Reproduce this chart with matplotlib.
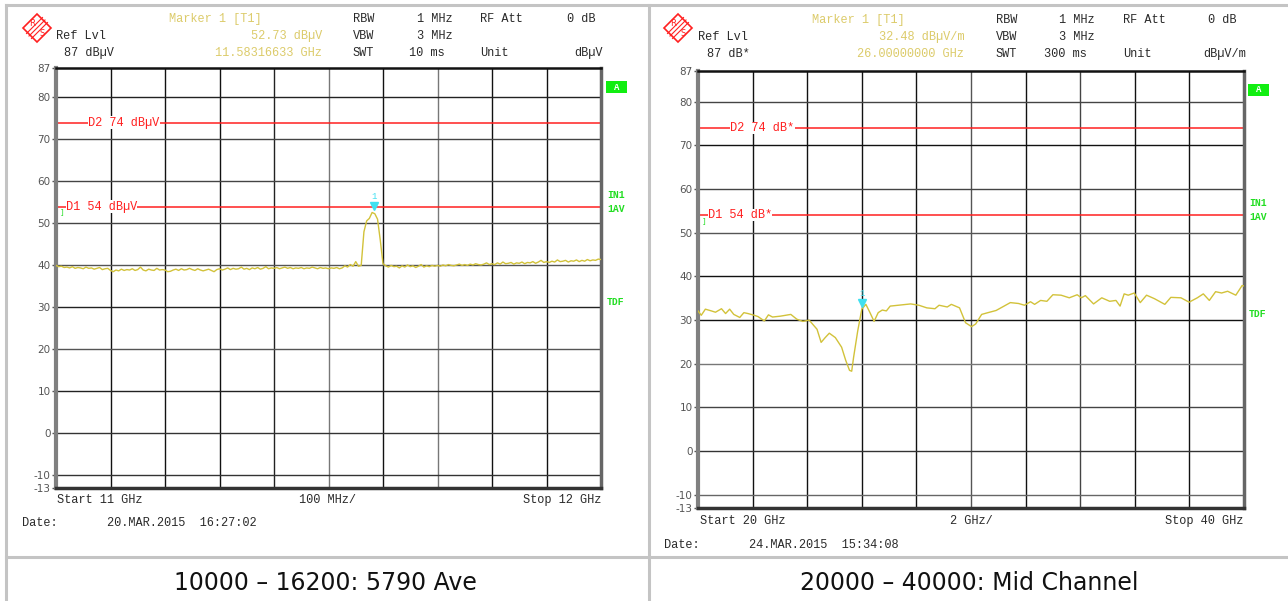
import numpy as np
import matplotlib
matplotlib.use("Agg")
import matplotlib.pyplot as plt
from matplotlib.transforms import blended_transform_factory
from matplotlib.patches import Polygon, Rectangle

W, H = 1288, 601
MONO = ["Liberation Mono", "DejaVu Sans Mono"]

# ---- panel 1: 11-12 GHz sweep, 5 MHz steps ----
left_start, left_stop = 11.0, 12.0
left_trace = [
    40.0, 39.7, 39.8, 39.5, 39.6, 39.4, 39.7, 39.3, 39.5, 39.4,
    39.2, 39.6, 39.3, 39.4, 39.1, 39.3, 39.5, 39.0, 39.2, 39.3,
    38.8, 38.5, 38.9, 38.7, 39.1, 38.8, 39.0, 38.9, 39.2, 38.8,
    39.0, 39.6, 38.9, 38.7, 39.1, 38.9, 38.8, 39.3, 38.9, 39.0,
    38.9, 38.5, 38.6, 38.9, 39.1, 38.8, 39.2, 38.9, 39.0, 39.3,
    39.0, 38.8, 39.2, 38.9, 38.7, 38.9, 39.1, 38.8, 38.5, 39.0,
    39.2, 38.9, 39.1, 39.4, 39.0, 39.3, 39.1, 39.2, 39.6, 39.1,
    39.3, 39.0, 39.4, 39.2, 39.5, 39.1, 39.3, 39.7, 39.2, 39.4,
    39.3, 39.5, 39.2, 39.4, 39.6, 39.3, 39.5, 39.2, 39.4, 39.3,
    39.5, 39.2, 39.4, 39.3, 39.6, 39.4, 39.2, 39.5, 39.3, 39.4,
    39.2, 39.4, 39.3, 39.5, 39.2, 39.4, 39.9, 39.6, 40.2, 39.8,
    40.9, 39.8, 40.0, 48.0, 50.6, 51.2, 52.6, 52.3, 51.0, 46.0,
    40.4, 39.9, 39.6, 40.0, 39.7, 39.8, 39.4, 39.9, 39.6, 40.1,
    39.7, 39.9, 39.5, 39.8, 40.2, 39.6, 39.9, 39.7, 40.0, 39.8,
    40.0, 39.8, 40.1, 39.9, 40.2, 40.0, 39.9, 40.1, 40.3, 40.0,
    40.2, 40.0, 40.3, 40.1, 40.4, 40.2, 40.1, 40.3, 40.6, 40.2,
    40.4, 40.2, 40.6, 40.3, 40.8, 40.4, 40.5, 40.7, 40.3, 40.6,
    40.5, 40.8, 40.4, 40.7, 40.6, 40.9, 40.5, 40.8, 41.2, 40.7,
    40.9, 40.7, 41.0, 40.8, 41.3, 40.9, 41.0, 41.2, 40.8, 41.1,
    41.0, 41.3, 40.9, 41.2, 41.0, 41.4, 41.1, 41.3, 41.2, 41.5,
    41.4,
]
left_marker = (11.58316633, 52.73)

# ---- panel 2: 20-40 GHz ----
right_start, right_stop = 20.0, 40.0
right_freq = [
    20.00, 20.12, 20.27, 20.49, 20.64, 20.86, 21.01, 21.16, 21.31, 21.53,
    21.68, 21.83, 22.06, 22.20, 22.43, 22.58, 22.73, 23.02, 23.40, 23.62,
    23.84, 24.07, 24.36, 24.51, 24.66, 24.81, 25.03, 25.26, 25.41, 25.55,
    25.63, 25.70, 25.85, 26.00, 26.15, 26.30, 26.45, 26.60, 26.75, 26.90,
    27.04, 27.34, 27.79, 28.09, 28.38, 28.68, 28.83, 29.13, 29.28, 29.58,
    29.80, 30.02, 30.17, 30.39, 30.62, 30.92, 31.21, 31.44, 31.74, 31.96,
    32.18, 32.33, 32.55, 32.78, 33.00, 33.30, 33.60, 33.89, 34.04, 34.19,
    34.49, 34.79, 35.08, 35.31, 35.46, 35.61, 35.76, 35.98, 36.20, 36.43,
    36.72, 37.10, 37.32, 37.69, 37.99, 38.29, 38.51, 38.73, 38.96, 39.18,
    39.40, 39.70, 39.93, 40.00,
]
right_trace = [
    32.1, 31.1, 32.5, 32.1, 31.8, 32.6, 31.5, 32.5, 31.3, 30.6,
    31.7, 31.5, 31.1, 30.8, 29.8, 31.2, 30.7, 30.9, 31.3, 30.2,
    29.7, 30.0, 27.9, 24.9, 26.0, 27.0, 26.0, 23.8, 20.8, 18.5,
    18.3, 21.5, 27.5, 32.5, 33.6, 31.7, 29.7, 31.7, 32.3, 32.1,
    33.2, 33.4, 33.7, 33.4, 32.8, 32.6, 33.4, 33.0, 33.6, 32.8,
    29.4, 28.5, 29.1, 31.3, 31.7, 32.2, 33.2, 34.0, 33.8, 33.4,
    34.2, 33.6, 34.5, 34.3, 35.8, 35.7, 35.1, 35.8, 35.1, 35.6,
    33.7, 35.1, 34.3, 34.5, 33.2, 36.0, 35.7, 36.2, 34.0, 35.7,
    34.9, 33.6, 35.2, 35.1, 34.1, 35.1, 36.0, 34.5, 36.5, 36.2,
    36.6, 35.7, 37.9, 37.8,
]
right_marker = (26.0, 32.48)

y_ticks = [87, 80, 70, 60, 50, 40, 30, 20, 10, 0, -10, -13]
limit_d1, limit_d2 = 54, 74

TRACE = "#d2c23a"
MARK = "#40e0f0"
HDR = "#2a2a2a"
YEL = "#dccb6a"
RED = "#ff2020"
GRN = "#22dd22"


def px_rect(x0, y0, x1, y1):
    return [x0 / W, (H - y1) / H, (x1 - x0) / W, (y1 - y0) / H]


fig = plt.figure(figsize=(W / 100, H / 100), dpi=100)
bg = fig.add_axes([0, 0, 1, 1], zorder=0)
bg.set_xlim(0, W)
bg.set_ylim(H, 0)
bg.axis("off")

# table borders
for x in (6, 649):
    bg.plot([x, x], [5, 601], color="#c4c4c4", lw=2.2)
for y in (5, 557):
    bg.plot([6, W], [y, y], color="#c4c4c4", lw=2.2)


def logo(cx, cy):
    s = 14
    bg.add_patch(Polygon([(cx, cy - s), (cx + s, cy), (cx, cy + s), (cx - s, cy)],
                         closed=True, fill=False, edgecolor=RED, lw=1.2))
    for off in (-2.5, 0, 2.5):
        bg.plot([cx - 8 + off, cx + 8 + off], [cy + 8 + off, cy - 8 + off], color=RED, lw=0.8)
    bg.text(cx - 5, cy - 5, "R", color=RED, fontsize=6, ha="center", va="center")
    bg.text(cx + 5, cy + 5, "S", color=RED, fontsize=6, ha="center", va="center")


def hdr(x, y, s, color=HDR, ha="left"):
    bg.text(x, y, s, color=color, ha=ha, va="center", fontsize=8.6, family=MONO)


def panel(rect, xlim, vcolors, hcolors):
    ax = fig.add_axes(px_rect(*rect), zorder=1)
    ax.set_xlim(*xlim)
    ax.set_ylim(-13, 87)
    div = (xlim[1] - xlim[0]) / 10
    for i, c in enumerate(vcolors):
        ax.axvline(xlim[0] + (i + 1) * div, color=c, lw=1, zorder=1)
    for v, c in zip(y_ticks[1:-1], hcolors):
        ax.axhline(v, color=c, lw=1, zorder=1)
    ax.set_xticks([])
    ax.set_yticks(y_ticks)
    ax.set_yticklabels([str(t) for t in y_ticks])
    ax.tick_params(axis="y", labelsize=7.5, colors="#555555", length=3, pad=1, width=1)
    for lab in ax.get_yticklabels():
        lab.set_family(["DejaVu Sans"])
    ax.spines["left"].set_color("#808080")
    ax.spines["left"].set_linewidth(3)
    ax.spines["right"].set_color("#666666")
    ax.spines["right"].set_linewidth(2.5)
    ax.spines["top"].set_color("#111111")
    ax.spines["top"].set_linewidth(1.8)
    ax.spines["bottom"].set_color("#333333")
    ax.spines["bottom"].set_linewidth(2.5)
    return ax


def limits(ax, unit):
    tr = blended_transform_factory(ax.transAxes, ax.transData)
    for val, name, xf in ((limit_d2, "D2", 0.059), (limit_d1, "D1", 0.018)):
        ax.axhline(val, color=RED, lw=1.1, zorder=2)
        ax.text(xf, val, f"{name} {val} {unit}", transform=tr, color=RED, fontsize=8.6,
                family=MONO, va="center", ha="left", zorder=3,
                bbox=dict(facecolor="white", edgecolor="none", pad=0.2))
    ax.text(0.008, limit_d1 - 0.6, "]", transform=tr, color=GRN, fontsize=5.5,
            family=MONO, va="top", ha="left", zorder=3)


def marker(ax, f, v):
    ax.plot([f], [v + 1.4], marker="v", color=MARK, ms=6, zorder=5)
    ax.text(f, v + 3.6, "1", color=MARK, fontsize=6.5, family=MONO, ha="center",
            va="center", zorder=5)


def side_labels(x, y_a, y_in, y_av, y_tdf):
    bg.add_patch(Rectangle((x, y_a - 6), 21, 12, facecolor="#11ee11", edgecolor="none"))
    bg.text(x + 10.5, y_a, "A", color="white", fontsize=6.5, fontweight="bold",
            ha="center", va="center", family=MONO)
    for yy, s in ((y_in, "IN1"), (y_av, "1AV"), (y_tdf, "TDF")):
        bg.text(x + 1, yy, s, color=GRN, fontsize=7, fontweight="bold", ha="left",
                va="center", family=MONO)


# ---------------- left panel ----------------
logo(37, 28)
hdr(169, 19, "Marker 1 [T1]", YEL)
hdr(56, 36, "Ref Lvl")
hdr(64, 53, "87 dBµV")
hdr(322, 36, "52.73 dBµV", YEL, "right")
hdr(322, 53, "11.58316633 GHz", YEL, "right")
hdr(353, 19, "RBW")
hdr(353, 36, "VBW")
hdr(353, 53, "SWT")
hdr(453, 19, "1 MHz", ha="right")
hdr(453, 36, "3 MHz", ha="right")
hdr(445, 53, "10 ms", ha="right")
hdr(480, 19, "RF Att")
hdr(480, 53, "Unit")
hdr(596, 19, "0 dB", ha="right")
hdr(603, 53, "dBµV", ha="right")

axl = panel((56, 68, 601, 488), (left_start, left_stop),
            ["#111111", "#111111", "#111111", "#222222", "#777777",
             "#111111", "#777777", "#111111", "#111111"],
            ["#222222", "#444444", "#444444", "#444444", "#555555",
             "#222222", "#555555", "#222222", "#333333", "#333333"])
limits(axl, "dBµV")
left_freq = np.linspace(left_start, left_stop, len(left_trace))
axl.plot(left_freq, left_trace, color=TRACE, lw=1, zorder=4)
marker(axl, *left_marker)
side_labels(606, 87, 195, 209, 302)

hdr(57, 500, "Start 11 GHz")
hdr(328, 500, "100 MHz/", ha="center")
hdr(601, 500, "Stop 12 GHz", ha="right")
hdr(22, 523, "Date:")
hdr(107, 523, "20.MAR.2015  16:27:02")

# ---------------- right panel ----------------
logo(678, 28)
hdr(812, 20, "Marker 1 [T1]", YEL)
hdr(698, 37, "Ref Lvl")
hdr(707, 54, "87 dB*")
hdr(965, 37, "32.48 dBµV/m", YEL, "right")
hdr(964, 54, "26.00000000 GHz", YEL, "right")
hdr(996, 20, "RBW")
hdr(996, 37, "VBW")
hdr(996, 54, "SWT")
hdr(1095, 20, "1 MHz", ha="right")
hdr(1095, 37, "3 MHz", ha="right")
hdr(1087, 54, "300 ms", ha="right")
hdr(1123, 20, "RF Att")
hdr(1123, 54, "Unit")
hdr(1237, 20, "0 dB", ha="right")
hdr(1246, 54, "dBµV/m", ha="right")

axr = panel((698, 71, 1244, 508), (right_start, right_stop),
            ["#111111", "#111111", "#111111", "#111111", "#555555",
             "#111111", "#444444", "#111111", "#111111"],
            ["#444444", "#111111", "#444444", "#555555", "#111111",
             "#111111", "#777777", "#444444", "#333333", "#666666"])
limits(axr, "dB*")
axr.plot(right_freq, right_trace, color=TRACE, lw=1, zorder=4)
marker(axr, *right_marker)
side_labels(1248, 90, 203, 217, 314)

hdr(700, 521, "Start 20 GHz")
hdr(971, 521, "2 GHz/", ha="center")
hdr(1243, 521, "Stop 40 GHz", ha="right")
hdr(664, 545, "Date:")
hdr(749, 545, "24.MAR.2015  15:34:08")

# captions
bg.text(325, 583, "10000 \u2013 16200: 5790 Ave", fontsize=17, ha="center", va="center",
        color="#111111", family=["DejaVu Sans"])
bg.text(969, 583, "20000 \u2013 40000: Mid Channel", fontsize=17, ha="center", va="center",
        color="#111111", family=["DejaVu Sans"])

fig.savefig("out.png", dpi=100)
plt.close(fig)
